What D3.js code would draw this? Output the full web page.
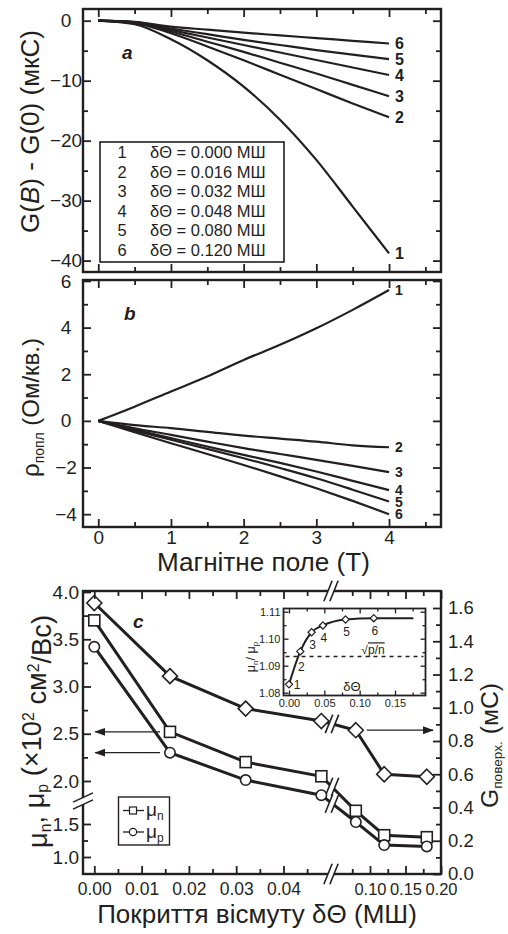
<!DOCTYPE html>
<html>
<head>
<meta charset="utf-8">
<script src="https://cdn.jsdelivr.net/npm/d3@7"></script>
<style>
  body { margin: 0; background: #fff; }
  svg text { font-family: "Liberation Sans", Arial, sans-serif; fill: #231f20; }
</style>
</head>
<body>
<svg id="chart" width="508" height="934"></svg>
<script>
// ---- data ----
const fieldB = [0, 0.5, 1, 1.5, 2, 2.5, 3, 3.5, 4];
const curveIds = ["1", "2", "3", "4", "5", "6"];
const coverLabels = ["0.000", "0.016", "0.032", "0.048", "0.080", "0.120"];
// panel a: G(B) - G(0), мкС
const gMag = [
  [0, -0.6, -3.1, -6.6, -11.0, -16.5, -23.2, -31.0, -38.8],
  [0, -0.4, -2.1, -4.3, -6.6, -9.0, -11.4, -13.8, -16.1],
  [0, -0.35, -1.8, -3.5, -5.2, -7.0, -8.8, -10.7, -12.6],
  [0, -0.3, -1.55, -2.8, -4.05, -5.3, -6.55, -7.8, -9.05],
  [0, -0.25, -1.3, -2.25, -3.2, -4.05, -4.9, -5.65, -6.4],
  [0, -0.2, -1.0, -1.5, -2.0, -2.45, -2.9, -3.35, -3.8]
];
// panel b: rho, Ом/кв.
const rhoHall = [
  [0, 0.61, 1.26, 1.9, 2.61, 3.26, 3.97, 4.76, 5.61],
  [0, -0.18, -0.31, -0.47, -0.63, -0.76, -0.89, -1.05, -1.13],
  [0, -0.32, -0.6, -0.89, -1.17, -1.42, -1.67, -1.93, -2.2],
  [0, -0.38, -0.74, -1.1, -1.46, -1.8, -2.17, -2.57, -2.97],
  [0, -0.42, -0.81, -1.2, -1.6, -2.02, -2.46, -2.95, -3.46],
  [0, -0.49, -0.96, -1.42, -1.89, -2.38, -2.89, -3.43, -4.0]
];
// panel c
const theta = [0, 0.016, 0.032, 0.048, 0.08, 0.12, 0.18];
const muN = [3.70, 2.52, 2.20, 2.05, 1.70, 1.33, 1.30];
const muP = [3.42, 2.30, 2.01, 1.85, 1.53, 1.18, 1.16];
const gSurf = [1.63, 1.19, 0.995, 0.92, 0.865, 0.60, 0.585];
// inset
const ratioTheta = [0, 0.016, 0.032, 0.048, 0.08, 0.12, 0.176];
const ratio = [1.0831, 1.0953, 1.1024, 1.1049, 1.1071, 1.1076, 1.1076];
const ratioMarked = 6;
const sqrtPN = 1.0934;

// ticks
const bTicks = [0, 1, 2, 3, 4], bMinor = [0.5, 1.5, 2.5, 3.5, 4.5];
const gTicks = [0, -10, -20, -30, -40], gMinor = [-5, -15, -25, -35];
const rhoTicks = [-4, -2, 0, 2, 4, 6], rhoMinor = [-3, -1, 1, 3, 5];
const muTicksHi = [2.0, 2.5, 3.0, 3.5, 4.0], muMinorHi = [2.25, 2.75, 3.25, 3.75];
const muTicksLo = [1.0, 1.5], muMinorLo = [1.25];
const thTicksL = [0, 0.01, 0.02, 0.03, 0.04], thMinorL = [0.005, 0.015, 0.025, 0.035, 0.045];
const thTicksR = [0.10, 0.15, 0.20], thMinorR = [0.075, 0.125, 0.175];
const gsTicks = [0, 0.2, 0.4, 0.6, 0.8, 1.0, 1.2, 1.4, 1.6];
const gsMinor = [0.1, 0.3, 0.5, 0.7, 0.9, 1.1, 1.3, 1.5];
const inXTicks = [0, 0.05, 0.10, 0.15], inXMinor = [0.025, 0.075, 0.125, 0.175];
const inYTicks = [1.08, 1.09, 1.10, 1.11], inYMinor = [1.085, 1.095, 1.105];

const ink = "#231f20";
const svg = d3.select("#chart");
const defs = svg.append("defs");
defs.append("marker").attr("id", "arrow")
  .attr("markerUnits", "userSpaceOnUse").attr("markerWidth", 11).attr("markerHeight", 8)
  .attr("refX", 10).attr("refY", 4).attr("orient", "auto")
  .append("path").attr("d", "M0,0 L11,4 L0,8 Z").attr("fill", ink);

// ---- helpers ----
function frame(x0, y0, x1, y1, w) {
  svg.append("rect").attr("x", x0).attr("y", y0)
    .attr("width", x1 - x0).attr("height", y1 - y0)
    .attr("fill", "none").attr("stroke", ink).attr("stroke-width", w || 2.4);
}

function axisAt(tx, ty, axisFn, scale, values, size, fmt, pad, fs, sw) {
  const g = svg.append("g").attr("transform", `translate(${tx},${ty})`)
    .call(axisFn(scale).tickValues(values).tickSize(-size)
      .tickPadding(pad || 6).tickFormat(fmt || (() => "")));
  g.select(".domain").remove();
  g.attr("font-family", null).attr("font-size", null);
  g.selectAll("line").attr("stroke", ink).attr("stroke-width", sw || 1.8);
  g.selectAll("text").attr("fill", ink).style("font-size", (fs || 19) + "px");
  return g;
}

function breakMark(cx, cy, ang, len, ox, oy, w) {
  const r = ang * Math.PI / 180, dx = Math.cos(r) * len / 2, dy = -Math.sin(r) * len / 2;
  const pts = [[cx - ox - dx, cy - oy - dy], [cx - ox + dx, cy - oy + dy],
               [cx + ox + dx, cy + oy + dy], [cx + ox - dx, cy + oy - dy]];
  svg.append("polygon").attr("points", pts.map(p => p.join(",")).join(" ")).attr("fill", "#fff");
  [-1, 1].forEach(s => svg.append("line")
    .attr("x1", cx + s * ox - dx).attr("y1", cy + s * oy - dy)
    .attr("x2", cx + s * ox + dx).attr("y2", cy + s * oy + dy)
    .attr("stroke", ink).attr("stroke-width", w || 1.6));
}

// title text with tspans sized in em, scaled so its length matches the reference
function title(x, y, rotate, len, parts) {
  const t = svg.append("text")
    .attr("transform", `translate(${x},${y})` + (rotate ? " rotate(-90)" : ""))
    .attr("text-anchor", "middle").attr("dy", rotate ? "0.36em" : 0)
    .style("font-size", "24px");
  parts.forEach(p => {
    const s = t.append("tspan").text(p.t);
    if (p.em) s.style("font-size", p.em + "em");
    if (p.dy) s.attr("dy", p.dy + "em");
    if (p.it) s.style("font-style", "italic");
  });
  const w = t.node().getComputedTextLength();
  t.style("font-size", (24 * len / w) + "px");
  return t;
}

const diamond = r => `M0,${-r}L${r},0L0,${r}L${-r},0Z`;

// ---- panel a ----
const xB = d3.scaleLinear().domain([-0.21, 4.715]).range([83, 441]);
const yG = d3.scaleLinear().domain([-41.9, 1.95]).range([272, 9]);
const curveLine = (ys, yScale) => d3.line()
  .x((d, i) => xB(fieldB[i])).y(d => yScale(d)).curve(d3.curveMonotoneX)(ys);

gMag.forEach(ys => svg.append("path").attr("d", curveLine(ys, yG))
  .attr("fill", "none").attr("stroke", ink).attr("stroke-width", 2.2));
frame(83, 9, 441, 272);
axisAt(83, 0, d3.axisLeft, yG, gTicks, 8, d3.format("d"), 17)
  .selectAll("text").attr("text-anchor", "middle");
axisAt(83, 0, d3.axisLeft, yG, gMinor, 5);
axisAt(441, 0, d3.axisRight, yG, gTicks, 8);
axisAt(441, 0, d3.axisRight, yG, gMinor, 5);
axisAt(0, 9, d3.axisTop, xB, bTicks, 8);
axisAt(0, 9, d3.axisTop, xB, bMinor, 5);
axisAt(0, 272, d3.axisBottom, xB, bTicks, 8);
axisAt(0, 272, d3.axisBottom, xB, bMinor, 5);

svg.selectAll(".endA").data(gMag).join("text")
  .attr("x", xB(4) + 6).attr("y", d => yG(d[d.length - 1]))
  .attr("dy", "0.36em").style("font-size", "16px").style("font-weight", "bold")
  .text((d, i) => curveIds[i]);

svg.append("text").attr("x", 122).attr("y", 59).text("a")
  .style("font-size", "19px").style("font-weight", "bold").style("font-style", "italic");

// legend a
svg.append("rect").attr("x", 100).attr("y", 142).attr("width", 184).attr("height", 120)
  .attr("fill", "#fff").attr("stroke", ink).attr("stroke-width", 1.6);
curveIds.forEach((id, i) => {
  const y = 152 + i * 19.6;
  svg.append("text").attr("x", 122).attr("y", y).attr("dy", "0.36em")
    .attr("text-anchor", "middle").style("font-size", "16.5px").text(id);
  svg.append("text").attr("x", 150).attr("y", y).attr("dy", "0.36em")
    .style("font-size", "16.5px").text(`δΘ = ${coverLabels[i]} МШ`);
});

title(30, 131.5, true, 203, [
  { t: "G(" }, { t: "B", it: true }, { t: ") - G(0) (мкС)" }
]);

// ---- panel b ----
const yR = d3.scaleLinear().domain([-4.55, 6.04]).range([527, 280]);
rhoHall.forEach(ys => svg.append("path").attr("d", curveLine(ys, yR))
  .attr("fill", "none").attr("stroke", ink).attr("stroke-width", 2.2));
frame(83, 280, 441, 527);
axisAt(83, 0, d3.axisLeft, yR, rhoTicks, 8, d3.format("d"), 17)
  .selectAll("text").attr("text-anchor", "middle");
axisAt(83, 0, d3.axisLeft, yR, rhoMinor, 5);
axisAt(441, 0, d3.axisRight, yR, rhoTicks, 8);
axisAt(441, 0, d3.axisRight, yR, rhoMinor, 5);
axisAt(0, 280, d3.axisTop, xB, bTicks, 8);
axisAt(0, 280, d3.axisTop, xB, bMinor, 5);
axisAt(0, 527, d3.axisBottom, xB, bTicks, 8, d3.format("d"), 3);
axisAt(0, 527, d3.axisBottom, xB, bMinor, 5);

svg.selectAll(".endB").data(rhoHall).join("text")
  .attr("x", xB(4) + 6).attr("y", d => yR(d[d.length - 1]))
  .attr("dy", "0.36em").style("font-size", "14px").style("font-weight", "bold")
  .text((d, i) => curveIds[i]);

svg.append("text").attr("x", 124).attr("y", 320).text("b")
  .style("font-size", "19px").style("font-weight", "bold").style("font-style", "italic");

title(263.5, 571, false, 213, [{ t: "Магнітне поле (Т)" }]);

title(30, 407.5, true, 139, [
  { t: "ρ" }, { t: "попл", em: 0.58, dy: 0.35 }, { t: "  (Ом/кв.)", dy: -0.2 }
]);

// ---- panel c ----
const xcL = d3.scaleLinear().domain([0, 0.05]).range([94.3, 330.8]);
const xcR = d3.scaleLinear().domain([0.1, 0.2]).range([370, 441]);
const xc = v => v <= 0.05 ? xcL(v) : xcR(v);
const yMuHi = d3.scaleLinear().domain([2, 4]).range([781, 592]);
const yMuLo = d3.scaleLinear().domain([1, 1.5]).range([857, 824]);
const yMu = v => v >= 1.8 ? yMuHi(v) : yMuLo(v);
const yGs = d3.scaleLinear().domain([0, 1.6]).range([874, 608]);

frame(83, 591, 441, 874);

const series = [
  { vals: gSurf, y: yGs, shape: "d" },
  { vals: muN, y: yMu, shape: "s" },
  { vals: muP, y: yMu, shape: "c" }
];
series.forEach(s => {
  svg.append("path")
    .attr("d", d3.line().x((d, i) => xc(theta[i])).y(d => s.y(d))(s.vals))
    .attr("fill", "none").attr("stroke", ink).attr("stroke-width", 3);
});
// broken segments between 0.048 and 0.08
series.forEach(s => {
  const x0 = xc(theta[3]), x1 = xc(theta[4]);
  const y0 = s.y(s.vals[3]), y1 = s.y(s.vals[4]);
  const bx = 332, by = y0 + (y1 - y0) * (bx - x0) / (x1 - x0);
  breakMark(bx, by, 68, 20, 3, 0, 1.6);
});
series.forEach(s => {
  const g = svg.append("g");
  s.vals.forEach((v, i) => {
    const x = xc(theta[i]), y = s.y(v);
    if (s.shape === "d") {
      g.append("path").attr("d", diamond(7.5)).attr("transform", `translate(${x},${y})`)
        .attr("fill", "#fff").attr("stroke", ink).attr("stroke-width", 1.6);
    } else if (s.shape === "s") {
      g.append("rect").attr("x", x - 5.5).attr("y", y - 5.5).attr("width", 11).attr("height", 11)
        .attr("fill", "#fff").attr("stroke", ink).attr("stroke-width", 1.6);
    } else {
      g.append("circle").attr("cx", x).attr("cy", y).attr("r", 5.2)
        .attr("fill", "#fff").attr("stroke", ink).attr("stroke-width", 1.6);
    }
  });
});

// arrows
[muN, muP].forEach(vals => {
  svg.append("line").attr("x1", xc(theta[1]) - 10).attr("x2", xc(0) + 1)
    .attr("y1", yMu(vals[1])).attr("y2", yMu(vals[1]))
    .attr("stroke", ink).attr("stroke-width", 1.3).attr("marker-end", "url(#arrow)");
});
svg.append("line").attr("x1", xc(theta[4]) + 11).attr("x2", 433)
  .attr("y1", yGs(gSurf[4])).attr("y2", yGs(gSurf[4]))
  .attr("stroke", ink).attr("stroke-width", 1.3).attr("marker-end", "url(#arrow)");

// axes c
const f1 = d3.format(".1f"), f2 = d3.format(".2f");
axisAt(83, 0, d3.axisLeft, yMuHi, muTicksHi, 8, f1, 4);
axisAt(83, 0, d3.axisLeft, yMuHi, muMinorHi, 5);
axisAt(83, 0, d3.axisLeft, yMuLo, muTicksLo, 8, f1, 4);
axisAt(83, 0, d3.axisLeft, yMuLo, muMinorLo, 5);
axisAt(441, 0, d3.axisRight, yGs, gsTicks, 8, f1, 7, 18.5);
axisAt(441, 0, d3.axisRight, yGs, gsMinor, 5);
axisAt(0, 591, d3.axisTop, xcL, thTicksL, 8);
axisAt(0, 591, d3.axisTop, xcL, thMinorL, 5);
axisAt(0, 591, d3.axisTop, xcR, thTicksR, 8);
axisAt(0, 591, d3.axisTop, xcR, thMinorR, 5);
axisAt(0, 874, d3.axisBottom, xcL, thTicksL, 8, f2, 9, 17.5);
axisAt(0, 874, d3.axisBottom, xcL, thMinorL, 5);
axisAt(0, 874, d3.axisBottom, xcR, thTicksR, 8, f2, 9, 16.5);
axisAt(0, 874, d3.axisBottom, xcR, thMinorR, 5);

breakMark(331, 591, 68, 22, 3, 0, 1.6);
breakMark(331, 874, 68, 22, 3, 0, 1.6);
breakMark(83, 801, 25, 22, 0, 3.5, 1.6);

svg.append("text").attr("x", 133).attr("y", 628).text("c")
  .style("font-size", "19px").style("font-weight", "bold").style("font-style", "italic");

// legend c
svg.append("rect").attr("x", 118.5).attr("y", 797).attr("width", 51).attr("height", 48)
  .attr("fill", "#fff").attr("stroke", ink).attr("stroke-width", 1.4);
[["s", "n", 810.5], ["c", "p", 832]].forEach(([shape, sub, y]) => {
  svg.append("line").attr("x1", 123).attr("x2", 144).attr("y1", y).attr("y2", y)
    .attr("stroke", ink).attr("stroke-width", 1.3);
  if (shape === "s") {
    svg.append("rect").attr("x", 129.5).attr("y", y - 3.5).attr("width", 7).attr("height", 7)
      .attr("fill", "#fff").attr("stroke", ink).attr("stroke-width", 1.2);
  } else {
    svg.append("circle").attr("cx", 133).attr("cy", y).attr("r", 3.6)
      .attr("fill", "#fff").attr("stroke", ink).attr("stroke-width", 1.2);
  }
  const t = svg.append("text").attr("x", 146).attr("y", y).attr("dy", "0.3em").style("font-size", "19px");
  t.append("tspan").text("μ");
  t.append("tspan").attr("dy", 4).style("font-size", "12px").text(sub);
});

// titles c
title(257, 923, false, 320, [{ t: "Покриття вісмуту δΘ (МШ)" }]);

title(37, 731.5, true, 233, [
  { t: "μ" }, { t: "n", em: 0.58, dy: 0.25 }, { t: ", μ", dy: -0.25 },
  { t: "p", em: 0.58, dy: 0.25 }, { t: " (×10", dy: -0.25 },
  { t: "2", em: 0.58, dy: -0.45 }, { t: " см", dy: 0.45 },
  { t: "2", em: 0.58, dy: -0.45 }, { t: "/Вс)", dy: 0.45 }
]);

title(489, 745.5, true, 125, [
  { t: "G" }, { t: "поверх.", em: 0.55, dy: 0.3 }, { t: " (мС)", dy: -0.17 }
]);

// ---- inset ----
const xIn = d3.scaleLinear().domain([0, 0.15]).range([289, 395]);
const yIn = d3.scaleLinear().domain([1.08, 1.11]).range([692.7, 611.7]);
const inBox = { x0: 283.5, y0: 608.5, x1: 425.5, y1: 695.5 };
svg.append("rect").attr("x", inBox.x0).attr("y", inBox.y0)
  .attr("width", inBox.x1 - inBox.x0).attr("height", inBox.y1 - inBox.y0)
  .attr("fill", "#fff").attr("stroke", ink).attr("stroke-width", 1.8);
svg.append("line").attr("x1", inBox.x0 + 2).attr("x2", inBox.x1 - 2)
  .attr("y1", yIn(sqrtPN)).attr("y2", yIn(sqrtPN))
  .attr("stroke", ink).attr("stroke-width", 1.5).attr("stroke-dasharray", "4,4");
svg.append("path")
  .attr("d", d3.line().x((d, i) => xIn(ratioTheta[i])).y(d => yIn(d)).curve(d3.curveMonotoneX)(ratio))
  .attr("fill", "none").attr("stroke", ink).attr("stroke-width", 2);
ratio.slice(0, ratioMarked).forEach((v, i) => {
  svg.append("path").attr("d", diamond(3.6))
    .attr("transform", `translate(${xIn(ratioTheta[i])},${yIn(v)})`)
    .attr("fill", "#fff").attr("stroke", ink).attr("stroke-width", 1.2);
  const lx = i === 0 ? xIn(ratioTheta[i]) + 8 : xIn(ratioTheta[i]) + 1;
  const ly = i === 0 ? yIn(v) : yIn(v) + (i === 1 ? 15 : 12);
  svg.append("text").attr("x", lx).attr("y", ly).attr("dy", "0.36em")
    .attr("text-anchor", "middle").style("font-size", "12px").text(curveIds[i]);
});
axisAt(inBox.x0, 0, d3.axisLeft, yIn, inYTicks, 5, f2, 3, 11, 1.3);
axisAt(inBox.x0, 0, d3.axisLeft, yIn, inYMinor, 3, null, 3, 11, 1.3);
axisAt(inBox.x1, 0, d3.axisRight, yIn, inYTicks, 5, null, 3, 11, 1.3);
axisAt(inBox.x1, 0, d3.axisRight, yIn, inYMinor, 3, null, 3, 11, 1.3);
axisAt(0, inBox.y1, d3.axisBottom, xIn, inXTicks, 5, f2, 4, 11, 1.3);
axisAt(0, inBox.y1, d3.axisBottom, xIn, inXMinor, 3, null, 4, 11, 1.3);
axisAt(0, inBox.y0, d3.axisTop, xIn, inXTicks, 5, null, 4, 11, 1.3);
axisAt(0, inBox.y0, d3.axisTop, xIn, inXMinor, 3, null, 4, 11, 1.3);

const sq = svg.append("text").attr("x", 373).attr("y", 650).attr("text-anchor", "middle")
  .attr("dy", "0.36em").style("font-size", "12px");
sq.append("tspan").text("√");
sq.append("tspan").style("text-decoration", "overline").text("p/n");
svg.append("text").attr("x", 352).attr("y", 686).attr("text-anchor", "middle")
  .attr("dy", "0.36em").style("font-size", "13px").text("δΘ");

const tI = svg.append("text").attr("transform", "translate(250,657) rotate(-90)")
  .attr("text-anchor", "middle").attr("dy", "0.36em").style("font-size", "12.5px");
tI.append("tspan").text("μ");
tI.append("tspan").attr("dy", 3).style("font-size", "8px").text("n");
tI.append("tspan").attr("dy", -3).text("/ μ");
tI.append("tspan").attr("dy", 3).style("font-size", "8px").text("p");
</script>
</body>
</html>
